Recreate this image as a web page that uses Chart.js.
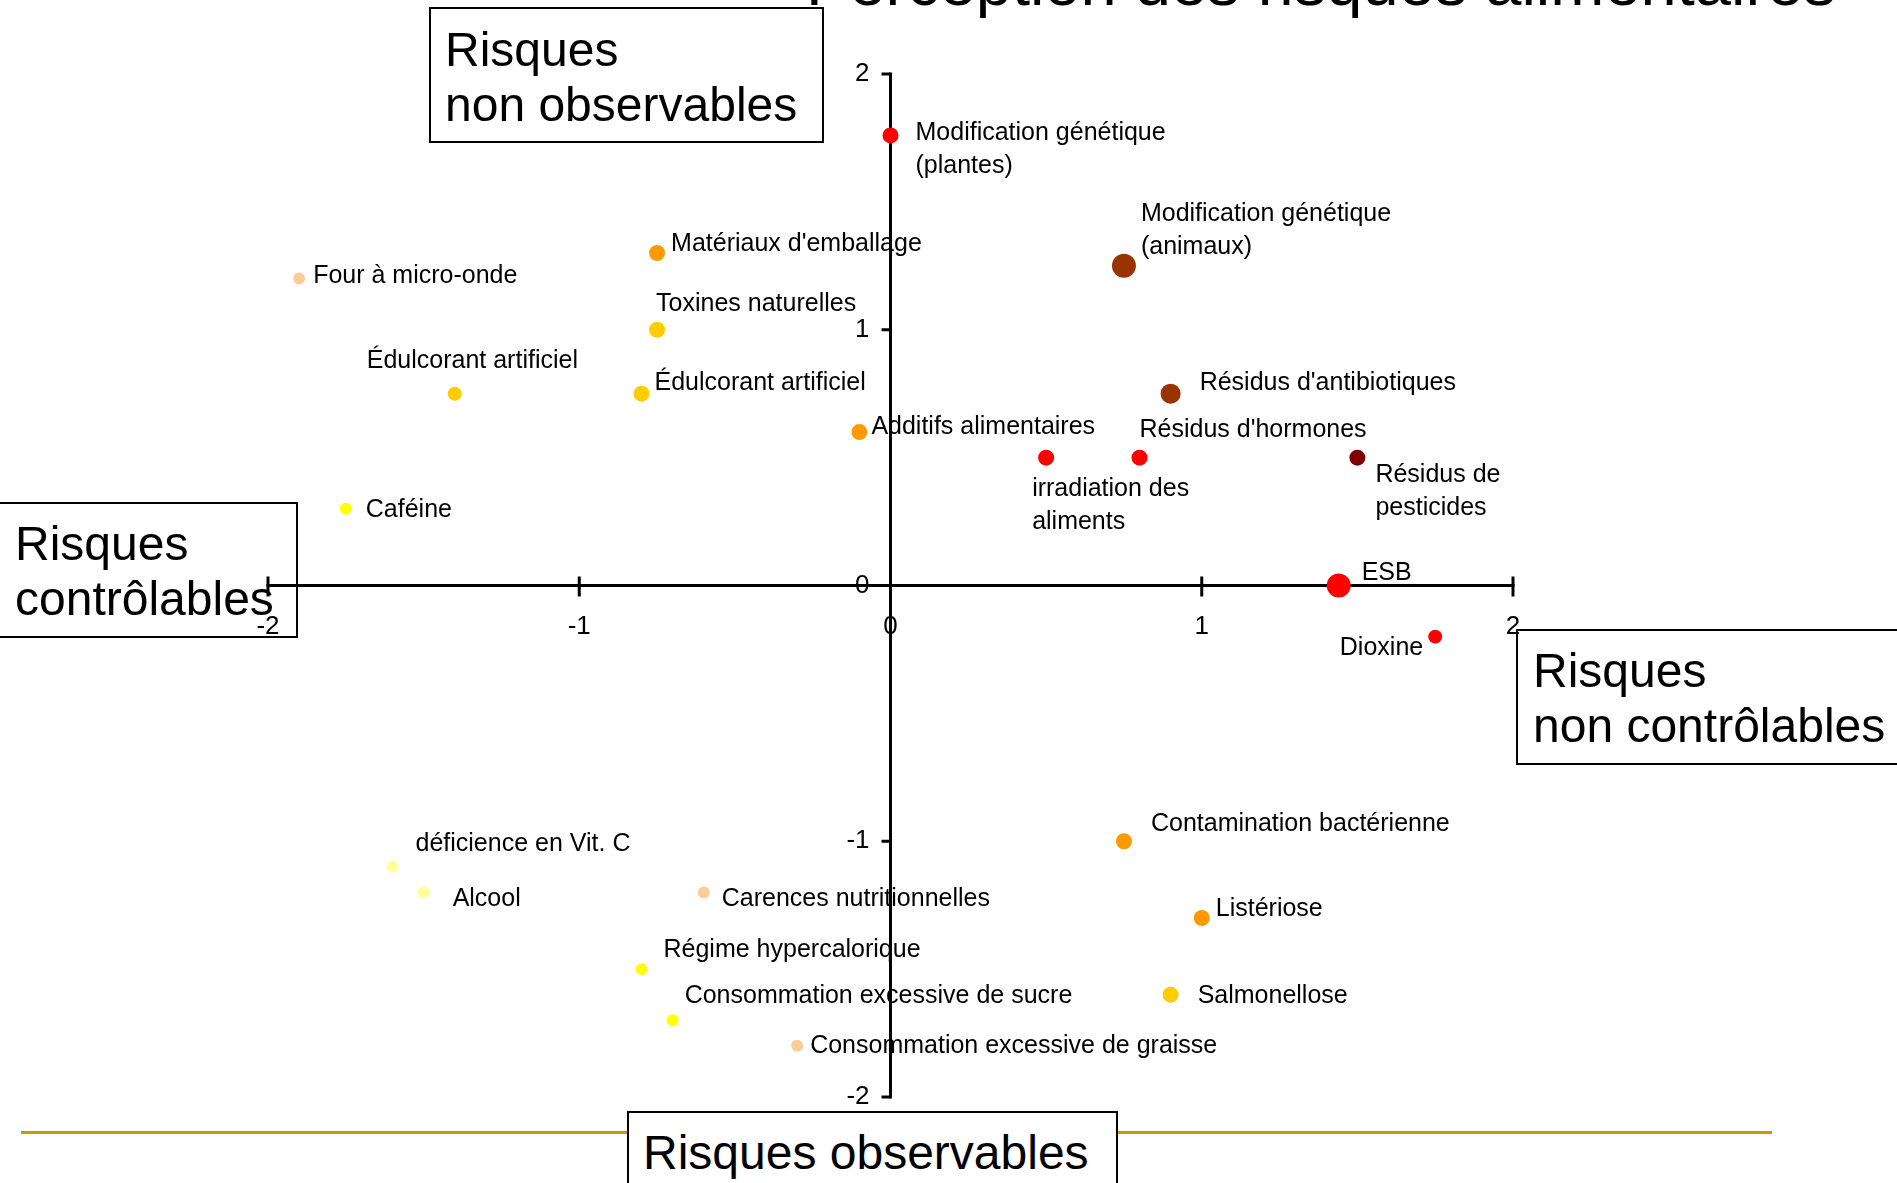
<!DOCTYPE html>
<html lang="fr">
<head>
<meta charset="utf-8">
<title>Perception des risques alimentaires</title>
<script src="https://cdn.jsdelivr.net/npm/chart.js@4.4.1/dist/chart.umd.min.js"></script>
<style>
  html, body { margin: 0; padding: 0; background: #fff; overflow: hidden; }
  #wrap { position: relative; width: 1897px; height: 1183px; overflow: hidden; font-family: "Liberation Sans", Arial, sans-serif; }
  #chartBox { position: absolute; left: 0; top: 0; width: 1897px; height: 1183px; }
  .title { position: absolute; left: 806px; top: -50px; font-size: 65px; line-height: 65px; color: #000; white-space: nowrap; }
  .box { position: absolute; box-sizing: border-box; border: 2px solid #000; font-size: 48px; line-height: 55px; color: #000; white-space: nowrap; padding-top: 12px; }
  .goldline { position: absolute; left: 21px; top: 1131px; width: 1751px; height: 3px; background: #C99A00; }
</style>
</head>
<body>
<div id="wrap">
  <div id="chartBox"><canvas id="c"></canvas></div>
  <div class="title">Perception des risques alimentaires</div>
  <div class="goldline"></div>
  <div class="box" style="left:429px; top:7px; width:395px; height:136px; padding-left:14px; padding-top:13px;">Risques<br>non observables</div>
  <div class="box" style="left:-2px; top:502px; width:300px; height:136px; padding-left:15px;">Risques<br>contrôlables</div>
  <div class="box" style="left:1516px; top:629px; width:400px; height:136px; padding-left:15px;">Risques<br>non contrôlables</div>
  <div class="box" style="left:627px; top:1111px; width:491px; height:100px; padding-left:14px; background:#fff;">Risques observables</div>
</div>
<script>
// ---- data ----
const categories = [
  'Modification génétique\n(plantes)',
  "Matériaux d'emballage",
  'Four à micro-onde',
  'Toxines naturelles',
  'Édulcorant artificiel',
  'Édulcorant artificiel',
  'Additifs alimentaires',
  'Caféine',
  'Modification génétique\n(animaux)',
  "Résidus d'antibiotiques",
  'irradiation des\naliments',
  "Résidus d'hormones",
  'Résidus de\npesticides',
  'ESB',
  'Dioxine',
  'Contamination bactérienne',
  'Listériose',
  'Salmonellose',
  'déficience en Vit. C',
  'Alcool',
  'Carences nutritionnelles',
  'Régime hypercalorique',
  'Consommation excessive de sucre',
  'Consommation excessive de graisse'
];
const xValues = [0, -0.75, -1.9, -0.75, -1.4, -0.8, -0.1, -1.75, 0.75, 0.9, 0.5, 0.8, 1.5, 1.44, 1.75, 0.75, 1.0, 0.9, -1.6, -1.5, -0.6, -0.8, -0.7, -0.3];
const yValues = [1.76, 1.3, 1.2, 1.0, 0.75, 0.75, 0.6, 0.3, 1.25, 0.75, 0.5, 0.5, 0.5, 0, -0.2, -1.0, -1.3, -1.6, -1.1, -1.2, -1.2, -1.5, -1.7, -1.8];
const xTicks = [-2, -1, 0, 1, 2];
const yTicks = [2, 1, 0, -1, -2];

// ---- styles (kept apart from the data) ----
const RED = '#FF0000', ORANGE = '#FF9900', GOLD = '#FFCC00', YELLOW = '#FFFF00',
      PALE = '#FFFF99', PEACH = '#FFCC99', BROWN = '#993300', DARKRED = '#800000';
const pointColors = [RED, ORANGE, PEACH, GOLD, GOLD, GOLD, ORANGE, YELLOW, BROWN, BROWN, RED, RED, DARKRED, RED, RED, ORANGE, ORANGE, GOLD, PALE, PALE, PEACH, YELLOW, YELLOW, PEACH];
const pointRadii = [8, 8, 6, 8, 7, 8, 8, 6, 12, 10, 8, 8, 8, 12, 7, 8, 8, 8, 6, 6, 6, 6, 6, 6];
// label offsets relative to the point: [dx, dy (baseline), align]
const labelOffsets = [
  [25, 5, 'left'], [14, -2, 'left'], [14, 4, 'left'], [-1, -19, 'left'], [-88, -26, 'left'],
  [13, -4, 'left'], [12, 2, 'left'], [20, 8, 'left'], [17, -45, 'left'], [29, -4, 'left'],
  [-14, 38, 'left'], [0, -21, 'left'], [18, 24, 'left'], [23, -6, 'left'], [-12, 18, 'right'],
  [27, -10, 'left'], [14, -2, 'left'], [27, 8, 'left'], [23, -16, 'left'], [29, 14, 'left'],
  [18, 14, 'left'], [22, -12, 'left'], [12, -17, 'left'], [13, 7, 'left']
];
const LINE_GAP = 33;
const FONT = '"Liberation Sans", Arial, sans-serif';

const axesAndLabels = {
  id: 'axesAndLabels',
  beforeDatasetsDraw(chart) {
    const { ctx, scales: { x, y } } = chart;
    const meta = chart.getDatasetMeta(0);
    ctx.save();
    // point labels
    ctx.font = '25px ' + FONT;
    ctx.fillStyle = '#000';
    ctx.textBaseline = 'alphabetic';
    meta.data.forEach((pt, i) => {
      const [dx, dy, align] = labelOffsets[i];
      ctx.textAlign = align;
      categories[i].split('\n').forEach((line, j) => {
        ctx.fillText(line, pt.x + dx, pt.y + dy + j * LINE_GAP);
      });
    });
    // axes
    const x0 = x.getPixelForValue(0);
    const y0 = y.getPixelForValue(0);
    ctx.strokeStyle = '#000';
    ctx.lineWidth = 3;
    ctx.lineCap = 'butt';
    ctx.beginPath();
    ctx.moveTo(x.getPixelForValue(xTicks[0]) - 1.5, y0);
    ctx.lineTo(x.getPixelForValue(xTicks[xTicks.length - 1]) + 1.5, y0);
    ctx.stroke();
    ctx.beginPath();
    ctx.moveTo(x0, y.getPixelForValue(yTicks[0]) - 1.5);
    ctx.lineTo(x0, y.getPixelForValue(yTicks[yTicks.length - 1]) + 1.5);
    ctx.stroke();
    // x ticks
    xTicks.forEach(v => {
      const px = x.getPixelForValue(v);
      ctx.beginPath(); ctx.moveTo(px, y0 - 9); ctx.lineTo(px, y0 + 11); ctx.stroke();
    });
    // y ticks
    yTicks.forEach(v => {
      const py = y.getPixelForValue(v);
      ctx.beginPath(); ctx.moveTo(x0 - 9, py); ctx.lineTo(x0, py); ctx.stroke();
    });
    // tick labels
    ctx.font = '26px ' + FONT;
    ctx.textBaseline = 'middle';
    ctx.textAlign = 'center';
    xTicks.forEach(v => ctx.fillText(String(v), x.getPixelForValue(v), y0 + 41));
    ctx.textAlign = 'right';
    yTicks.forEach(v => ctx.fillText(String(v), x0 - 21, y.getPixelForValue(v)));
    ctx.restore();
  }
};

new Chart(document.getElementById('c'), {
  type: 'scatter',
  data: {
    datasets: [{
      label: 'Risques',
      data: xValues.map((v, i) => ({ x: v, y: yValues[i] })),
      pointBackgroundColor: pointColors,
      pointBorderWidth: 0,
      pointBorderColor: 'rgba(0,0,0,0)',
      pointRadius: pointRadii,
      pointHoverRadius: pointRadii,
      clip: false
    }]
  },
  options: {
    responsive: true,
    maintainAspectRatio: false,
    animation: false,
    layout: { padding: { left: 268, right: 384, top: 74, bottom: 86 } },
    plugins: { legend: { display: false }, tooltip: { enabled: false }, title: { display: false } },
    scales: {
      x: { type: 'linear', min: -2, max: 2, display: false },
      y: { type: 'linear', min: -2, max: 2, display: false }
    }
  },
  plugins: [axesAndLabels]
});
</script>
</body>
</html>
